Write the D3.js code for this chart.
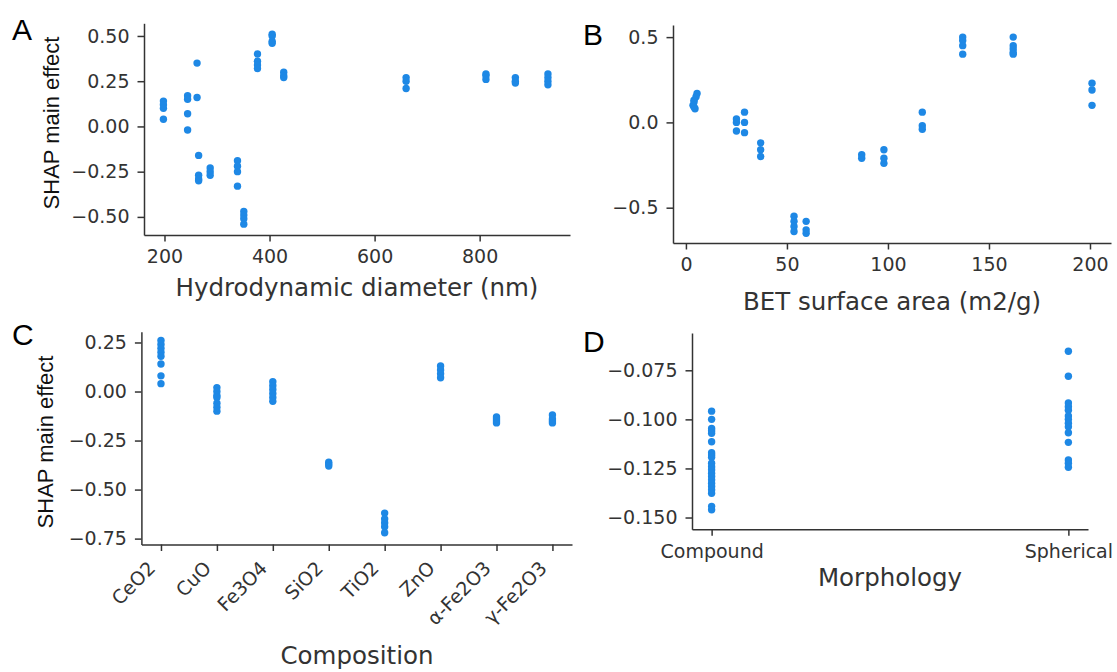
<!DOCTYPE html>
<html>
<head>
<meta charset="utf-8">
<script src="https://cdn.jsdelivr.net/npm/d3@7"></script>
<style>
  html, body { margin: 0; padding: 0; background: #fff; }
  svg { display: block; }
  .tick text { font-family: "DejaVu Sans", sans-serif; font-size: 19px; fill: #333; }
  .tick line, .domain { stroke: #333; stroke-width: 1.5px; }
  .xlabel { font-family: "DejaVu Sans", sans-serif; font-size: 24.5px; fill: #333; }
  .ylabel { font-family: "Liberation Sans", Arial, sans-serif; font-size: 22px; fill: #111; }
  .letter { font-family: "Liberation Sans", Arial, sans-serif; font-size: 30px; fill: #000; }
</style>
</head>
<body>
<svg id="chart" width="1117" height="672"></svg>
<script>
// ---------- Data ----------
// Panel A: Hydrodynamic diameter (nm) vs SHAP main effect
const diameterX = [198,198,198,198, 244,244,244,244, 262,262, 265,265,265,265, 287,287,287,
  339,339,339,339, 351,351,351,351, 377,377,377,377, 405,405,405,405, 427,427,427,
  660,660,660, 812,812,812, 868,868,868, 930,930,930,930];
const diameterShap = [0.14,0.12,0.10,0.04, 0.17,0.15,0.07,-0.02, 0.35,0.16, -0.16,-0.27,-0.29,-0.30, -0.23,-0.25,-0.27,
  -0.19,-0.22,-0.25,-0.33, -0.47,-0.49,-0.51,-0.54, 0.40,0.36,0.34,0.32, 0.51,0.50,0.47,0.46, 0.30,0.28,0.27,
  0.27,0.25,0.21, 0.29,0.28,0.26, 0.27,0.25,0.24, 0.29,0.27,0.25,0.23];
const diameterTicks = [200, 400, 600, 800];
const shapTicksA = [0.5, 0.25, 0, -0.25, -0.5];

// Panel B: BET surface area (m2/g) vs SHAP main effect
const betX = [5.5,5,4,4,3.5,4,4.5, 25,25,25, 29,29,29, 37,37,37, 53.5,53.5,53.5,53.5, 59.5,59.5,59.5,
  87,87, 98,98,98, 117,117,117, 137,137,137,137, 162,162,162,162,162, 201,201,201];
const betShap = [0.17,0.15,0.13,0.12,0.10,0.09,0.08, 0.02,0.0,-0.05, 0.06,0.0,-0.06, -0.12,-0.16,-0.20,
  -0.55,-0.58,-0.61,-0.64, -0.58,-0.63,-0.65, -0.19,-0.21, -0.16,-0.21,-0.24, 0.06,-0.02,-0.04,
  0.50,0.48,0.45,0.40, 0.50,0.45,0.43,0.41,0.40, 0.23,0.19,0.10];
const betTicks = [0, 50, 100, 150, 200];
const shapTicksB = [0.5, 0.0, -0.5];

// Panel C: Composition vs SHAP main effect
const compositionCats = ["CeO2", "CuO", "Fe3O4", "SiO2", "TiO2", "ZnO", "α-Fe2O3", "γ-Fe2O3"];
const compositionIdx = [0,0,0,0,0,0,0,0, 1,1,1,1,1,1,1, 2,2,2,2,2,2, 3,3,3, 4,4,4,4,4, 5,5,5,5, 6,6,6,6, 7,7,7,7];
const compositionShap = [0.26,0.24,0.22,0.20,0.18,0.14,0.08,0.04, 0.02,0.0,-0.02,-0.03,-0.06,-0.08,-0.10,
  0.05,0.03,0.01,-0.01,-0.03,-0.05, -0.36,-0.37,-0.38, -0.62,-0.65,-0.67,-0.69,-0.72,
  0.13,0.11,0.09,0.07, -0.13,-0.14,-0.15,-0.16, -0.12,-0.14,-0.15,-0.16];
const shapTicksC = [0.25, 0, -0.25, -0.5, -0.75];

// Panel D: Morphology vs SHAP main effect
const morphCats = ["Compound", "Spherical"];
const morphIdx = [0,0,0,0,0,0,0,0,0,0,0,0,0,0,0,0,0,0,0,0,0, 1,1,1,1,1,1,1,1,1,1,1,1,1,1];
const morphShap = [-0.0958,-0.1000,-0.1046,-0.1058,-0.1071,-0.1114,-0.1170,-0.1181,-0.1193,-0.1223,-0.1241,
  -0.1257,-0.1274,-0.1291,-0.1308,-0.1325,-0.1342,-0.1359,-0.1376,-0.1444,-0.1461,
  -0.0653,-0.0780,-0.0916,-0.0936,-0.0953,-0.0983,-0.1000,-0.1020,-0.1038,-0.1068,-0.1117,-0.1207,-0.1223,-0.1244];
const shapTicksD = [-0.075, -0.1, -0.125, -0.15];

// ---------- Drawing ----------
const svg = d3.select("#chart");
const DOT = "#1E88E5";
const R = 3.7;

function panel(cfg) {
  const g = svg.append("g");
  const x = d3.scaleLinear().domain(cfg.xDomain).range([cfg.left, cfg.right]);
  const y = d3.scaleLinear().domain(cfg.yDomain).range([cfg.bottom, cfg.top]);

  const xAxis = d3.axisBottom(x).tickValues(cfg.xTicks).tickSize(6.5).tickSizeOuter(0).tickPadding(8.5);
  if (cfg.xFormat) xAxis.tickFormat(cfg.xFormat);
  const xg = g.append("g").attr("transform", `translate(0,${cfg.bottom})`).call(xAxis);

  const yAxis = d3.axisLeft(y).tickValues(cfg.yTicks).tickSize(6.5).tickSizeOuter(0).tickPadding(8)
    .tickFormat(d3.format(cfg.yFmt));
  g.append("g").attr("transform", `translate(${cfg.left},0)`).call(yAxis);

  g.selectAll(".dot").data(cfg.xs.map((d, i) => [d, cfg.ys[i]])).join("circle")
    .attr("class", "dot")
    .attr("cx", d => x(d[0])).attr("cy", d => y(d[1])).attr("r", R)
    .attr("fill", DOT);

  return { g, xg, x, y };
}

// Panel A
panel({
  left: 144, right: 570, top: 23.3, bottom: 235,
  xDomain: [161, 972], yDomain: [-0.6, 0.57],
  xTicks: diameterTicks, yTicks: shapTicksA, yFmt: ".2f",
  xs: diameterX, ys: diameterShap
});
// Panel B
panel({
  left: 673, right: 1111, top: 25, bottom: 243,
  xDomain: [-6.4, 210.4], yDomain: [-0.707, 0.571],
  xTicks: betTicks, yTicks: shapTicksB, yFmt: ".1f",
  xs: betX, ys: betShap
});
// Panel C
const pc = panel({
  left: 141.4, right: 572, top: 331.7, bottom: 544.5,
  xDomain: [-0.35, 7.35], yDomain: [-0.78, 0.305],
  xTicks: d3.range(compositionCats.length), xFormat: i => compositionCats[i],
  yTicks: shapTicksC, yFmt: ".2f",
  xs: compositionIdx, ys: compositionShap
});
pc.xg.selectAll(".tick text")
  .attr("text-anchor", "end")
  .attr("dy", null)
  .attr("y", null)
  .attr("transform", "translate(-5,25) rotate(-45)");
// Panel D
panel({
  left: 692, right: 1088, top: 333, bottom: 529.3,
  xDomain: [-0.055, 1.055], yDomain: [-0.156, -0.056],
  xTicks: [0, 1], xFormat: i => morphCats[i],
  yTicks: shapTicksD, yFmt: ".3f",
  xs: morphIdx, ys: morphShap
});

// Axis labels
const labels = [
  { t: "Hydrodynamic diameter (nm)", x: 357, y: 296 },
  { t: "BET surface area (m2/g)", x: 892, y: 310 },
  { t: "Composition", x: 357, y: 664 },
  { t: "Morphology", x: 890, y: 586 }
];
svg.selectAll(".xlabel").data(labels).join("text")
  .attr("class", "xlabel").attr("text-anchor", "middle")
  .attr("x", d => d.x).attr("y", d => d.y).text(d => d.t);

const ylabels = [
  { t: "SHAP main effect", x: 59, y: 123 },
  { t: "SHAP main effect", x: 53, y: 442 }
];
svg.selectAll(".ylabel").data(ylabels).join("text")
  .attr("class", "ylabel").attr("text-anchor", "middle")
  .attr("transform", d => `translate(${d.x},${d.y}) rotate(-90)`).text(d => d.t);

const letters = [
  { t: "A", x: 12, y: 40 }, { t: "B", x: 583, y: 45 },
  { t: "C", x: 12, y: 345 }, { t: "D", x: 583, y: 352 }
];
svg.selectAll(".letter").data(letters).join("text")
  .attr("class", "letter").attr("x", d => d.x).attr("y", d => d.y).text(d => d.t);
</script>
</body>
</html>
